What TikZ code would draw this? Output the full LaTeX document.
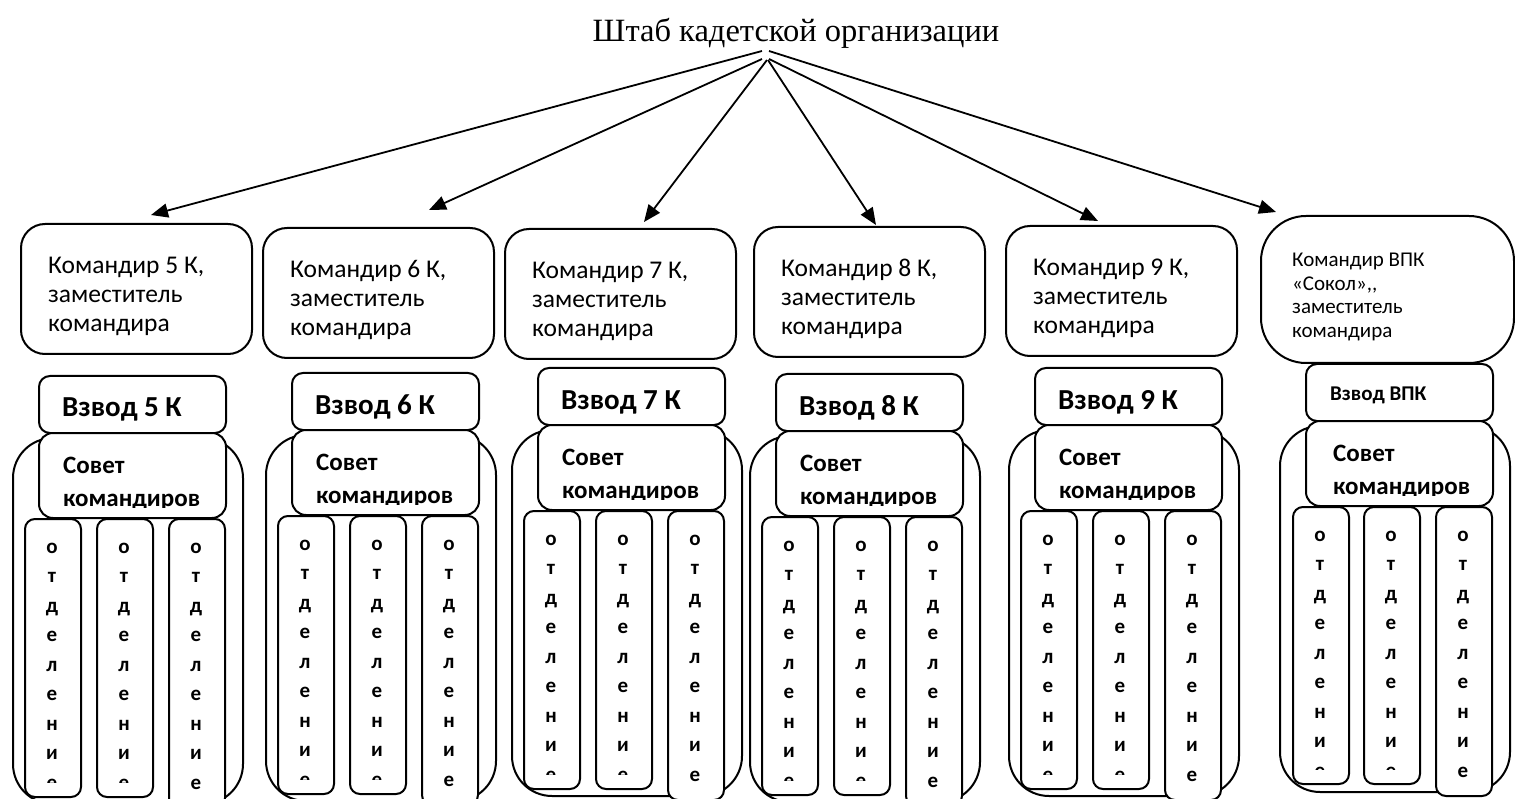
\documentclass[tikz,border=0pt]{standalone}
\usepackage{fontspec}
\setmainfont{Carlito}
\newfontfamily\titlefont{Liberation Serif}
\usetikzlibrary{arrows.meta,calc}

\tikzset{
  box/.style={draw, line width=2pt, fill=white, inner sep=0pt, anchor=north west},
  cmdbox/.style={box, rounded corners=24pt, minimum width=231pt, minimum height=130pt},
  platoon/.style={box, rounded corners=11pt, minimum width=187pt, minimum height=57pt},
  council/.style={box, rounded corners=14pt, minimum width=187pt, minimum height=85pt},
  outerbox/.style={box, rounded corners=40pt, minimum width=230pt, minimum height=366pt},
  squad/.style={box, rounded corners=10pt, minimum width=56pt},
  cmdtext/.style={anchor=base west, inner sep=0pt, text width=200pt, align=flush left,
    font=\fontsize{25.5}{29}\selectfont},
  platoontext/.style={anchor=base west, inner sep=0pt, font=\bfseries\fontsize{29}{29}\selectfont},
  counciltext/.style={anchor=base west, inner sep=0pt, text width=170pt, align=flush left,
    font=\bfseries\fontsize{25}{33}\selectfont},
  letter/.style={anchor=base, inner sep=0pt, font=\bfseries\fontsize{21}{21}\selectfont},
  link/.style={line width=1.8pt, -{Triangle[length=17pt,width=14pt]}}
}

\begin{document}
\begin{tikzpicture}[x=1pt, y=-1pt]
\useasboundingbox (0,0) rectangle (1515,799);
\clip (0,0) rectangle (1515,799);

\node[anchor=base, inner sep=0pt, font=\titlefont\fontsize{32.5}{32.5}\selectfont] (hq) at (796,42) {Штаб кадетской организации};
\coordinate (hub) at (765,55);

% classes 5 to 9
\foreach \n/\cx/\cy/\X/\Y in {5/20/223/38/375, 6/262/227/291/372, 7/504/228/537/367, 8/753/226/775/373, 9/1005/225/1034/367}{
	\node[cmdbox] (cmd\n) at (\cx,\cy) {};
	\node[cmdtext] (ct\n) at (\cx+28,\cy+51) {Командир \n\ К,\\заместитель\\командира};
	\node[outerbox] (out\n) at (\X-26,\Y+62) {};
	\node[platoon] (pl\n) at (\X,\Y) {};
	\node[platoontext] (pt\n) at (\X+24,\Y+42) {Взвод \n\ К};
	\node[council] (sov\n) at (\X,\Y+57) {};
	\begin{scope}
	\clip (\X,\Y+57) rectangle (\X+187,\Y+132);
	\node[counciltext] (st\n) at (\X+25,\Y+98) {Совет\\командиров};
	\end{scope}
	\foreach \k/\sx/\h/\cb in {a/-14/278/407, b/58/278/407, c/130/289/440}{
		\node[squad, minimum height=\h pt] (sq\n\k) at (\X+\sx,\Y+143) {};
		\begin{scope}
		\clip (\X+\sx,\Y+143) rectangle (\X+\sx+56,\Y+\cb);
		\foreach \c [count=\i] in {о,т,д,е,л,е,н,и,е}{
			\node[letter] (l\n\k\i) at (\X+\sx+28,\Y+178+29.5*\i-29.5) {\c};
		}
		\end{scope}
	}
}

% VPK
\node[cmdbox, rounded corners=45pt, minimum width=253pt, minimum height=147pt] (cmdv) at (1260,215) {};
\node[cmdtext, text width=210pt, font=\fontsize{21}{23.5}\selectfont] (ctv) at (1292,267) {Командир ВПК\\«Сокол»,{},\\заместитель\\командира};
\node[outerbox] (outv) at (1279,425) {};
\node[platoon] (plv) at (1305,363) {};
\node[platoontext, font=\bfseries\fontsize{21}{21}\selectfont] (ptv) at (1330,400) {Взвод ВПК};
\node[council] (sovv) at (1305,420) {};
\begin{scope}
\clip (1305,420) rectangle (1492,495);
\node[counciltext] (stv) at (1333,461) {Совет\\командиров};
\end{scope}
\foreach \k/\sx/\h/\cb in {a/-13/277/406, b/58/277/406, c/130/289/440}{
	\node[squad, minimum height=\h pt] (sqv\k) at (1305+\sx,506) {};
	\begin{scope}
	\clip (1305+\sx,506) rectangle (1305+\sx+56,363+\cb);
	\foreach \c [count=\i] in {о,т,д,е,л,е,н,и,е}{
		\node[letter] (lv\k\i) at (1305+\sx+28,541+29.5*\i-29.5) {\c};
	}
	\end{scope}
}

% arrows from the staff
\foreach \t/\dx/\dy/\sx/\sy in {cmd5/14.5/-8/-3/-4, cmd6/50.5/-17/-3/4, cmd7/23.5/-6/2/5, cmd8/6.5/-1/3/5, cmd9/-23.5/-4/4/4, cmdv/-111.5/-3/4/-4}{
	\draw[link] ($(hub)+(\sx,\sy)$) -- ($(\t.north)+(\dx,\dy)$);
}

\end{tikzpicture}
\end{document}
